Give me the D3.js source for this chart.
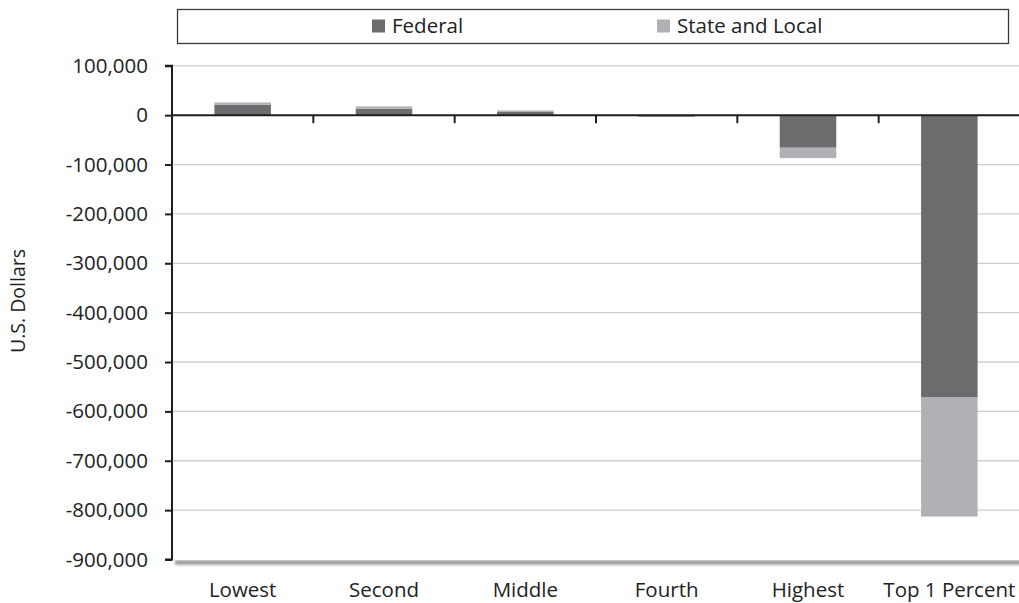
<!DOCTYPE html>
<html><head><meta charset="utf-8">
<script src="https://cdn.jsdelivr.net/npm/d3@7"></script>
<style>body{margin:0;background:#fff;} svg{display:block;}</style>
</head><body>
<script>
const categories = ["Lowest","Second","Middle","Fourth","Highest","Top 1 Percent"];
const federal = [21000, 13000, 6500, -3000, -66000, -572000];
const stateLocal = [4700, 4700, 3000, -500, -21000, -241000];
const seriesNames = ["Federal","State and Local"];
const yTicks = [100000,0,-100000,-200000,-300000,-400000,-500000,-600000,-700000,-800000,-900000];

const W=1019,H=603;
const font = "'Open Sans', sans-serif";
const colors = ["#6c6c6e","#b0b1b4"];
const textCol = "#222";
const svg = d3.select("body").append("svg").attr("width",W).attr("height",H);
const defs = svg.append("defs");
const f = defs.append("filter").attr("id","sh").attr("x","-5%").attr("y","-200%").attr("width","110%").attr("height","500%");
f.append("feGaussianBlur").attr("stdDeviation",1.8);

const x0=172, x1=1020;
const y = d3.scaleLinear().domain([-900000,100000]).range([559.5,65.8]);
const x = d3.scaleBand().domain(categories).range([x0,x1]).paddingInner(0.6).paddingOuter(0.3);

// bottom shadow
svg.append("rect").attr("x",x0+3).attr("y",y(-900000)+1).attr("width",x1-x0).attr("height",4)
  .attr("fill","#8a8a8a").attr("filter","url(#sh)");
svg.append("rect").attr("x",x0).attr("y",y(-900000)-4).attr("width",x1-x0).attr("height",4.5).attr("fill","#fff");

// gridlines
svg.append("g").selectAll("line").data(yTicks.filter(d=>d!==0 && d!==-900000)).join("line")
  .attr("x1",x0).attr("x2",x1).attr("y1",d=>y(d)).attr("y2",d=>y(d))
  .attr("stroke","#cfcfcf").attr("stroke-width",1.3);

// bars (stack per sign)
const data = categories.map((c,i)=>({c, vals:[federal[i], stateLocal[i]]}));
const g = svg.append("g");
data.forEach(d=>{
  let pos=0, neg=0;
  d.vals.forEach((v,k)=>{
    let a,b;
    if(v>=0){a=pos; b=pos+v; pos=b;} else {a=neg; b=neg+v; neg=b;}
    g.append("rect").attr("x",x(d.c)).attr("width",x.bandwidth())
      .attr("y",y(Math.max(a,b))).attr("height",Math.abs(y(a)-y(b)))
      .attr("fill",colors[k]);
  });
});

// y axis
const yAxis = d3.axisLeft(y).tickValues(yTicks).tickSize(7).tickPadding(17)
  .tickFormat(d=>d3.format(",")(d).replace("−","-"));
const ya = svg.append("g").attr("transform",`translate(${x0},0)`).call(yAxis);
ya.select(".domain").attr("stroke","#1e1e1e").attr("stroke-width",2).attr("d",`M-7,${y(100000)}H0V${y(-900000)}H-7`);
ya.selectAll(".tick line").attr("stroke","#1e1e1e").attr("stroke-width",2);
ya.selectAll("text").attr("font-family",font).attr("font-size",20.5).attr("fill",textCol);

// zero axis with category ticks
const xa = svg.append("g").attr("transform",`translate(0,${y(0)})`);
xa.append("line").attr("x1",x0).attr("x2",x1).attr("stroke","#1e1e1e").attr("stroke-width",2);
const bounds = categories.slice(1).map(c=>x(c)-x.step()*x.paddingInner()/2);
xa.selectAll("line.t").data(bounds).join("line").attr("class","t")
  .attr("x1",d=>d).attr("x2",d=>d).attr("y1",0).attr("y2",8).attr("stroke","#1e1e1e").attr("stroke-width",2);

// category labels
svg.append("g").selectAll("text").data(categories).join("text")
  .attr("x",d=>x(d)+x.bandwidth()/2).attr("y",597).attr("text-anchor","middle")
  .attr("font-family",font).attr("font-size",20.5).attr("fill",textCol).text(d=>d);

// y title
svg.append("text").attr("transform",`translate(25,${301}) rotate(-90)`).attr("text-anchor","middle")
  .attr("font-family",font).attr("font-size",19.5).attr("fill",textCol).text("U.S. Dollars");

// legend
svg.append("rect").attr("x",177.5).attr("y",9.5).attr("width",831).attr("height",34)
  .attr("fill","#fff").attr("stroke","#3a3a3a").attr("stroke-width",1.3);
const legX=[372,657];
seriesNames.forEach((s,i)=>{
  svg.append("rect").attr("x",legX[i]).attr("y",19.5).attr("width",13).attr("height",13).attr("fill",colors[i]);
  svg.append("text").attr("x",legX[i]+20).attr("y",33).attr("font-family",font).attr("font-size",20.5)
    .attr("fill",textCol).text(s);
});
</script>
</body></html>
